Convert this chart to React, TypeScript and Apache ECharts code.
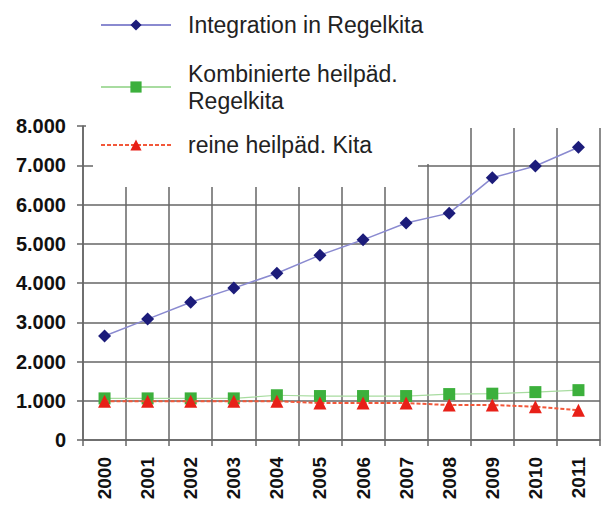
import React, { useEffect, useRef } from "react";
import * as echarts from "echarts";

const years = ["2000", "2001", "2002", "2003", "2004", "2005", "2006", "2007", "2008", "2009", "2010", "2011"];
const integration = [2650, 3080, 3510, 3870, 4250, 4710, 5100, 5530, 5780, 6680, 6980, 7460];
const kombiniert = [1060, 1060, 1060, 1060, 1140, 1120, 1120, 1120, 1170, 1180, 1220, 1270];
const reine = [990, 990, 990, 990, 990, 940, 940, 940, 890, 890, 850, 760];
const seriesNames = ["Integration in Regelkita", "Kombinierte heilpäd.\nRegelkita", "reine heilpäd. Kita"];

const fmt = (v: number) => String(v).replace(/\B(?=(\d{3})+(?!\d))/g, ".");

export default function App() {
  const ref = useRef<HTMLDivElement>(null);
  useEffect(() => {
    document.body.style.margin = "0";
    const chart = echarts.init(ref.current!, null, { renderer: "svg" });
    const font = "'Liberation Sans', Arial, sans-serif";
    const legendText = { fontFamily: font, fontSize: 23, color: "#222", lineHeight: 27, padding: [0, 0, 0, 12] };
    const mkLegend = (name: string, top: number) => ({
      data: [name],
      left: 100,
      top,
      padding: 0,
      itemWidth: 70,
      itemHeight: 14,
      textStyle: legendText,
      selectedMode: false,
    });
    chart.setOption({
      animation: false,
      backgroundColor: "#fff",
      grid: { left: 83, right: 3, top: 126, bottom: 66 },
      legend: [mkLegend(seriesNames[0], 11.5), mkLegend(seriesNames[1], 60), mkLegend(seriesNames[2], 131.5)],
      graphic: [
        { type: "rect", z: 1, shape: { x: 93, y: 0, width: 325, height: 187 }, style: { fill: "#fff" } },
        { type: "rect", z: 1, shape: { x: 418, y: 0, width: 20, height: 164 }, style: { fill: "#fff" } },
        { type: "rect", z: 1, shape: { x: 86, y: 118, width: 517, height: 10 }, style: { fill: "#fff" } },
      ],
      xAxis: {
        type: "category",
        data: years,
        boundaryGap: true,
        axisLine: { lineStyle: { color: "#666", width: 1.5 } },
        axisTick: { show: true, length: 6, lineStyle: { color: "#666", width: 1.5 } },
        splitLine: { show: true, lineStyle: { color: "#666", width: 1.5 } },
        axisLabel: { rotate: 90, margin: 17, fontFamily: font, fontWeight: "bold", fontSize: 19, color: "#111" },
      },
      yAxis: {
        type: "value",
        min: 0,
        max: 8000,
        interval: 1000,
        axisLine: { show: true, lineStyle: { color: "#666", width: 1.5 } },
        axisTick: { show: true, length: 6, lineStyle: { color: "#666", width: 1.5 } },
        splitLine: { show: true, lineStyle: { color: "#666", width: 1.5 } },
        axisLabel: { margin: 17, fontFamily: font, fontWeight: "bold", fontSize: 20, color: "#111", formatter: (v: number) => fmt(v) },
      },
      series: [
        {
          name: seriesNames[0],
          type: "line",
          data: integration,
          symbol: "diamond",
          symbolSize: 13,
          itemStyle: { color: "#1c1c7a" },
          lineStyle: { color: "#8a8ad0", width: 1.5 },
          z: 5,
        },
        {
          name: seriesNames[1],
          type: "line",
          data: kombiniert,
          symbol: "rect",
          symbolSize: 12,
          itemStyle: { color: "#3cb03c" },
          lineStyle: { color: "#a8dca0", width: 1.2 },
          z: 3,
        },
        {
          name: seriesNames[2],
          type: "line",
          data: reine,
          symbol: "triangle",
          symbolSize: 13,
          itemStyle: { color: "#e82018" },
          lineStyle: { color: "#f2583a", width: 2, type: [4, 2] },
          z: 4,
        },
      ],
    });
    return () => chart.dispose();
  }, []);
  return <div ref={ref} style={{ width: 603, height: 506 }} />;
}
